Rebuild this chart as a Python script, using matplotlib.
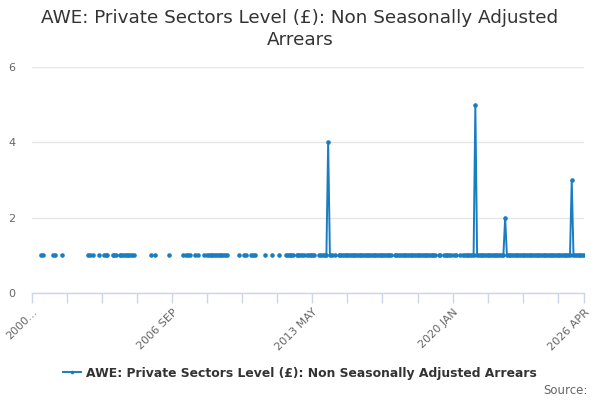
import matplotlib
matplotlib.use("Agg")
import matplotlib.pyplot as plt
import numpy as np

N = None
months = ["JAN", "FEB", "MAR", "APR", "MAY", "JUN", "JUL", "AUG", "SEP", "OCT", "NOV", "DEC"]
years = list(range(2000, 2027))
categories = [f"{y} {m}" for y in years for m in months]

values = (
    [N, N, N, N, N, 1, 1, N, N, N, N, N] +      # 2000
    [1, 1, N, N, N, 1, N, N, N, N, N, N] +      # 2001
    [N, N, N, N, N, N, N, N, 1, 1, N, 1] +      # 2002
    [N, N, 1, N, N, 1, 1, 1, N, N, 1, 1] +      # 2003
    [1, N, 1, 1, 1, 1, 1, 1, 1, 1, 1, N] +      # 2004
    [N, N, N, N, N, N, N, N, 1, N, 1, N] +      # 2005
    [N, N, N, N, N, N, 1, N, N, N, N, N] +      # 2006
    [N, N, 1, N, 1, 1, 1, N, N, 1, N, 1] +      # 2007
    [N, N, 1, N, 1, 1, 1, 1, 1, 1, 1, 1] +      # 2008
    [1, 1, 1, 1, N, N, N, N, N, N, 1, N] +      # 2009
    [N, 1, 1, N, N, 1, 1, 1, N, N, N, N] +      # 2010
    [N, 1, N, N, N, 1, N, N, N, 1, N, N] +      # 2011
    [N, 1, 1, 1, 1, 1, N, 1, 1, 1, 1, 1] +      # 2012
    [N, 1, 1, 1, 1, 1, N, N, 1, 1, 1, 1] +      # 2013
    [1, 4, 1, 1, N, 1, N, 1, 1, 1, 1, 1] +      # 2014
    [1, 1, 1, 1, 1, 1, 1, 1, 1, 1, 1, 1] +      # 2015
    [1, 1, 1, 1, 1, 1, 1, 1, 1, 1, 1, 1] +      # 2016
    [1, 1, N, 1, 1, 1, 1, 1, 1, 1, 1, 1] +      # 2017
    [1, 1, 1, 1, 1, 1, 1, 1, 1, 1, 1, 1] +      # 2018
    [1, 1, 1, N, 1, 1, N, 1, 1, 1, 1, 1] +      # 2019
    [N, 1, 1, N, 1, N, 1, 1, 1, 1, 1, 1] +      # 2020
    [1, 5, 1, 1, 1, 1, 1, 1, 1, 1, 1, 1] +      # 2021
    [1, 1, 1, 1, 1, 1, 2, 1, 1, 1, 1, 1] +      # 2022
    [1, 1, 1, 1, 1, 1, 1, 1, 1, 1, 1, 1] +      # 2023
    [1, 1, 1, 1, 1, 1, 1, 1, 1, 1, 1, 1] +      # 2024
    [1, 1, 1, 1, 1, 1, 1, 1, 3, 1, 1, 1] +      # 2025
    [1, 1, 1, 1]                                # 2026
)
categories = categories[:len(values)]
series_name = "AWE: Private Sectors Level (£): Non Seasonally Adjusted Arrears"
title = "AWE: Private Sectors Level (£): Non Seasonally Adjusted\nArrears"
y_ticks = [0, 2, 4, 6]

x = np.arange(len(categories))
y = np.array([np.nan if v is None else v for v in values], dtype=float)

fig = plt.figure(figsize=(6, 4), dpi=100)
ax = fig.add_axes([32 / 600, 1 - 293 / 400, (584 - 32) / 600, (293 - 67) / 400])

color = "#1a7dc2"
line, = ax.plot(x, y, color=color, lw=1.4, marker="o", markersize=3.3,
                markeredgewidth=0, label=series_name)

ax.set_xlim(0, len(categories) - 1)
ax.set_ylim(0, 6)
ax.set_yticks(y_ticks)
ax.set_yticklabels([str(t) for t in y_ticks])
ax.grid(axis="y", color="#e6e6e6", lw=1)
ax.set_axisbelow(True)

minor_pos = list(range(0, len(categories), 20)) + [len(categories) - 1]
ax.set_xticks(minor_pos, minor=True)
major_pos = [0, 80, 160, 240, len(categories) - 1]
ax.set_xticks(major_pos)
labels = [categories[i] for i in major_pos]
labels[0] = "2000..."
ax.set_xticklabels(labels, rotation=45, ha="right", rotation_mode="anchor")
ax.tick_params(axis="x", which="both", length=7, color="#ccd6eb", width=1,
               labelsize=8, labelcolor="#666666", pad=3)
ax.tick_params(axis="y", length=0, labelsize=8, labelcolor="#666666", pad=12)

for s in ["top", "right", "left"]:
    ax.spines[s].set_visible(False)
ax.spines["bottom"].set_color("#ccd6eb")
ax.spines["bottom"].set_linewidth(1)

fig.text(0.5, 1 - 29 / 400, title, ha="center", va="center", fontsize=13.2,
         color="#333333", linespacing=1.25)

leg = fig.legend(handles=[line], loc="center", bbox_to_anchor=(0.5, 1 - 373 / 400),
                 frameon=False, prop={"weight": "bold", "size": 8.9},
                 handlelength=1.4, handletextpad=0.4, markerscale=0.8)
for t in leg.get_texts():
    t.set_color("#333333")

fig.text(588 / 600, 1 - 390 / 400, "Source:", ha="right", va="center",
         fontsize=8.5, color="#666666")

fig.savefig("out.png", dpi=100)
